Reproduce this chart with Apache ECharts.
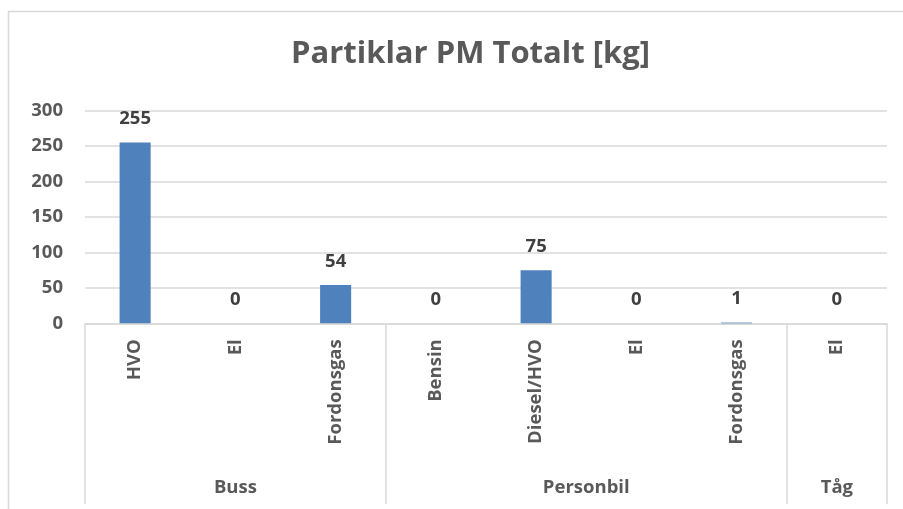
<!DOCTYPE html>
<html>
<head>
<meta charset="utf-8">
<script src="https://cdn.jsdelivr.net/npm/echarts@6/dist/echarts.min.js"></script>
<style>
html,body{margin:0;padding:0;background:#fff;}
#c{width:903px;height:509px;}
</style>
</head>
<body>
<div id="c"></div>
<script>
var title = 'Partiklar PM Totalt [kg]';
var categories = ['HVO', 'El', 'Fordonsgas', 'Bensin', 'Diesel/HVO', 'El', 'Fordonsgas', 'El'];
var values = [255, 0, 54, 0, 75, 0, 1, 0];
var groups = ['Buss', 'Personbil', 'Tåg'];
var groupSizes = [3, 4, 1];
var yTicks = [0, 50, 100, 150, 200, 250, 300];

// group boundaries and centers in category units
var bounds = [0];
var centers = [];
groupSizes.forEach(function (n) {
  var start = bounds[bounds.length - 1];
  centers.push(start + n / 2);
  bounds.push(start + n);
});

var FONT = '"Open Sans", "DejaVu Sans", sans-serif';
var FS = 18.5;
var chart = echarts.init(document.getElementById('c'), null, {renderer: 'canvas'});
chart.setOption({
  animation: false,
  backgroundColor: '#ffffff',
  title: {
    text: title,
    left: 286,
    top: 34,
    textStyle: {fontFamily: FONT, fontSize: 31, fontWeight: 'bold', color: '#595959'}
  },
  graphic: [{
    type: 'polyline',
    shape: {points: [[8.5, 509], [8.5, 11.5], [903, 11.5]]},
    style: {stroke: '#d9d9d9', lineWidth: 1.5, fill: null},
    silent: true
  }],
  grid: {left: 85, right: 16, top: 110.7, bottom: 185.7, containLabel: false},
  xAxis: [{
    type: 'category',
    data: categories,
    axisLine: {show: true, lineStyle: {color: '#d9d9d9', width: 1.5}},
    axisTick: {show: false},
    axisLabel: {
      rotate: 90, margin: 16, interval: 0,
      fontFamily: FONT, fontSize: FS, fontWeight: 'bold', color: '#595959'
    }
  }, {
    type: 'value',
    position: 'bottom',
    min: 0,
    max: bounds[bounds.length - 1],
    axisLine: {show: false},
    splitLine: {show: false},
    axisTick: {show: true, customValues: bounds, length: 181, lineStyle: {color: '#d9d9d9', width: 1.5}},
    axisLabel: {
      show: true, customValues: centers, margin: 155,
      fontFamily: FONT, fontSize: FS, fontWeight: 'bold', color: '#595959',
      formatter: function (v) {
        var i = centers.indexOf(v);
        return i >= 0 ? groups[i] : '';
      }
    }
  }],
  yAxis: {
    type: 'value',
    min: yTicks[0],
    max: yTicks[yTicks.length - 1],
    interval: 50,
    axisLine: {show: false},
    axisTick: {show: false},
    splitLine: {lineStyle: {color: '#d9d9d9', width: 1.5}},
    axisLabel: {margin: 22, fontFamily: FONT, fontSize: FS, fontWeight: 'bold', color: '#595959'}
  },
  series: [{
    type: 'bar',
    data: values,
    xAxisIndex: 0,
    barWidth: '31%',
    itemStyle: {color: '#4f81bd'},
    label: {
      show: true, position: 'top', distance: 14,
      fontFamily: FONT, fontSize: FS, fontWeight: 'bold', color: '#404040'
    }
  }]
});
</script>
</body>
</html>
